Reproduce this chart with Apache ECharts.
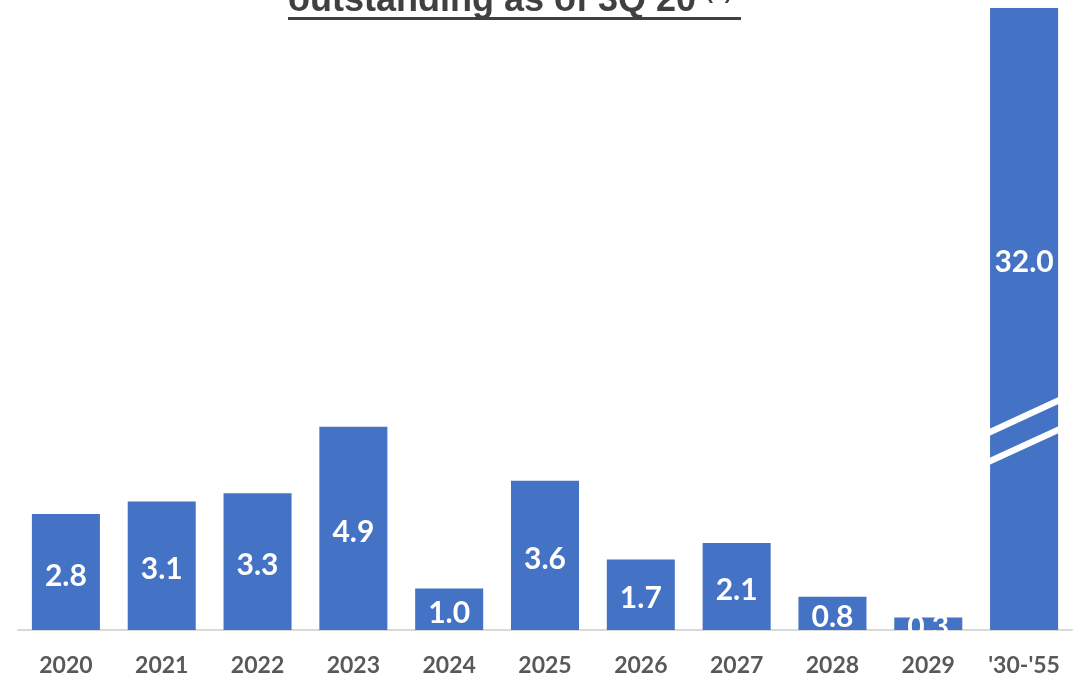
<!DOCTYPE html>
<html>
<head>
<meta charset="utf-8">
<script src="https://cdn.jsdelivr.net/npm/echarts@6/dist/echarts.min.js"></script>
<style>
  html, body { margin: 0; padding: 0; background: #fff; }
  #main { width: 1086px; height: 678px; }
</style>
</head>
<body>
<div id="main"></div>
<script>
// maturity profile, bn
var categories = ['2020', '2021', '2022', '2023', '2024', '2025', '2026', '2027', '2028', '2029', "'30-'55"];
var values = [2.8, 3.1, 3.3, 4.9, 1.0, 3.6, 1.7, 2.1, 0.8, 0.3, 32.0];
// axis is cut at this value, the last bar is broken
var axisMax = 15;
// where the two break stripes cross the last bar (value at left edge, right edge)
var breaks = [[4.75, 5.55], [4.05, 4.85]];

var blue = '#4472c4';

var myChart = echarts.init(document.getElementById('main'));

var seriesData = values.map(function (v, i) {
  if (v > axisMax) {
    return { value: v, label: { offset: [0, -57] } };
  }
  return v;
});

myChart.setOption({
  animation: false,
  grid: { left: 18, right: 14, top: 8, bottom: 48 },
  xAxis: {
    type: 'category',
    data: categories,
    axisLine: { lineStyle: { color: '#d9d9d9', width: 2 } },
    axisTick: { show: false },
    axisLabel: {
      color: '#595959',
      fontFamily: 'Lato',
      fontWeight: 'bold',
      fontSize: 23,
      margin: 24
    }
  },
  yAxis: {
    type: 'value',
    min: 0,
    max: axisMax,
    show: false,
    splitLine: { show: false }
  },
  series: [{
    type: 'bar',
    data: seriesData,
    barWidth: '71%',
    clip: true,
    itemStyle: { color: blue },
    label: {
      show: true,
      position: 'inside',
      offset: [0, 4],
      color: '#fff',
      fontFamily: 'Lato',
      fontWeight: 'bold',
      fontSize: 30,
      formatter: function (p) { return p.value.toFixed(1); }
    }
  }]
});

// title (only its last line is visible) and the break marks on the long bar
function drawExtras() {
  var last = categories.length - 1;
  var c = myChart.convertToPixel({ xAxisIndex: 0 }, last);
  var band = myChart.convertToPixel({ xAxisIndex: 0 }, 1) - myChart.convertToPixel({ xAxisIndex: 0 }, 0);
  var half = band * 0.71 / 2;
  var x0 = c - half - 2, x1 = c + half + 2;
  var stripes = breaks.map(function (b) {
    var yl = myChart.convertToPixel({ yAxisIndex: 0 }, b[0]);
    var yr = myChart.convertToPixel({ yAxisIndex: 0 }, b[1]);
    return {
      type: 'polygon',
      shape: { points: [[x0, yl - 3.5], [x1, yr - 3.5], [x1, yr + 3.5], [x0, yl + 3.5]] },
      style: { fill: '#fff' },
      z: 10
    };
  });
  myChart.setOption({
    graphic: [
      {
        type: 'text',
        left: 288,
        top: -17,
        style: {
          text: 'outstanding as of 3Q 20 {sup|(a)}',
          font: 'bold 36px "Liberation Sans", Arial, sans-serif',
          fill: '#404040',
          rich: {
            sup: { font: 'bold 21px "Liberation Sans", Arial, sans-serif', fill: '#404040', verticalAlign: 'top', padding: [0, 0, 16, 0] }
          }
        }
      },
      {
        type: 'rect',
        shape: { x: 288, y: 17, width: 453, height: 3 },
        style: { fill: '#404040' }
      }
    ].concat(stripes)
  });
}
drawExtras();
</script>
</body>
</html>
